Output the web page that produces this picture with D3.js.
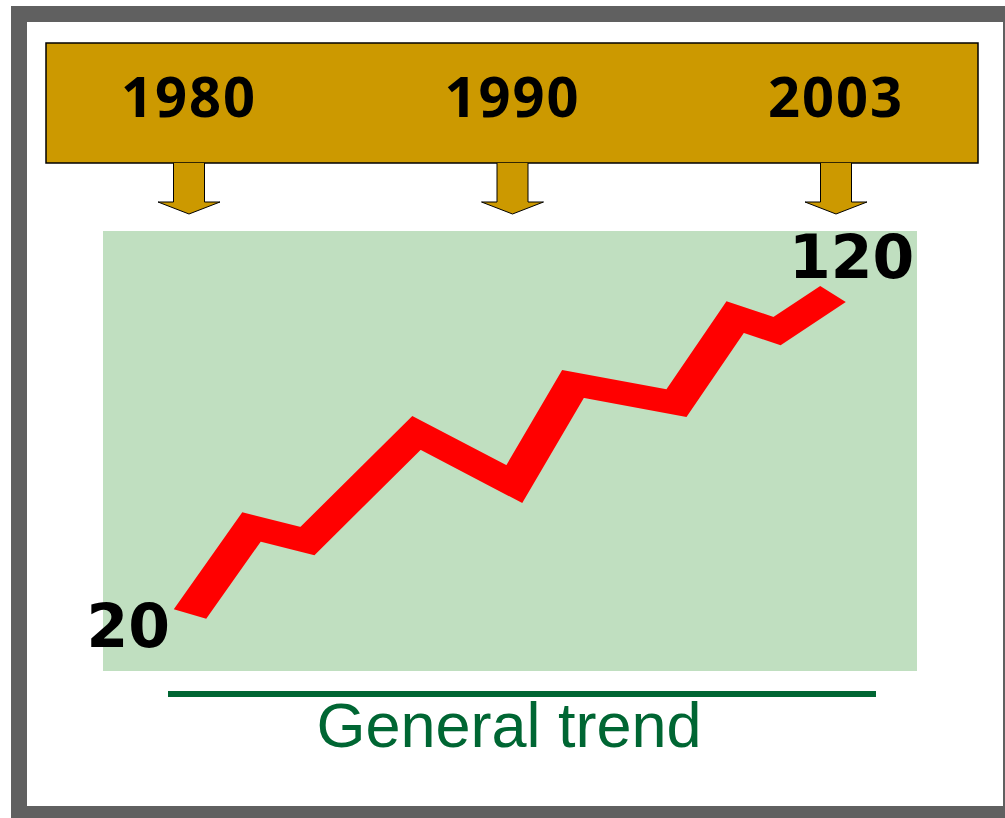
<!DOCTYPE html>
<html lang="en">

<head>
    <meta charset="utf-8">
    <script src="https://d3js.org/d3.v7.min.js"></script>
    <style>
        body { margin: 0; background: #ffffff; }
    </style>
</head>

<body>
    <div id="my_dataviz"></div>
</body>

<script>
    // banner years and the trend series
    const bannerYears = ["1980", "1990", "2003"];
    const years = [1980, 1982.2, 1984.2, 1988.1, 1991.6, 1993.7, 1997.4, 1999.5, 2001, 2003];
    const values = [20, 47.2, 42.8, 76.6, 60.6, 91.9, 85.9, 112.8, 108.4, 120];
    const caption = "General trend";

    const width = 1005,
        height = 818;

    const svg = d3.select("#my_dataviz")
        .append("svg")
        .attr("width", width)
        .attr("height", height);

    // grey frame
    svg.append("rect")
        .attr("x", 11).attr("y", 6)
        .attr("width", 1010).attr("height", 830)
        .attr("fill", "#606060");
    svg.append("rect")
        .attr("x", 27).attr("y", 22)
        .attr("width", 976).attr("height", 784)
        .attr("fill", "#ffffff");

    // banner
    svg.append("rect")
        .attr("x", 46).attr("y", 43)
        .attr("width", 932).attr("height", 120)
        .attr("fill", "#cc9900")
        .attr("stroke", "#000000")
        .attr("stroke-width", 1.5);

    const xb = d3.scalePoint()
        .domain(bannerYears)
        .range([189, 836]);

    svg.selectAll("yearlabel")
        .data(bannerYears)
        .join("text")
        .attr("x", d => xb(d))
        .attr("y", 117)
        .attr("text-anchor", "middle")
        .style("font-family", "'Open Sans', sans-serif")
        .style("font-weight", "bold")
        .style("font-size", "56px")
        .style("letter-spacing", "2px")
        .text(d => d);

    // arrows under each year
    svg.selectAll("arrow")
        .data(bannerYears)
        .join("path")
        .attr("d", d => {
            const c = xb(d);
            return `M${c - 15.5},163 L${c - 15.5},202 L${c - 31},202 L${c},214 L${c + 31},202 L${c + 15.5},202 L${c + 15.5},163`;
        })
        .attr("fill", "#cc9900")
        .attr("stroke", "#000000")
        .attr("stroke-width", 1);

    // green panel
    svg.append("rect")
        .attr("x", 103).attr("y", 231)
        .attr("width", 814).attr("height", 440)
        .attr("fill", "#c0dfc0");

    // scales for the trend
    const x = d3.scaleLinear()
        .domain([1980, 2003])
        .range([190, 833]);
    const y = d3.scaleLinear()
        .domain([20, 120])
        .range([614, 294]);

    // line is drawn squeezed then stretched, so steep parts look thicker
    const sx = 1.55;
    svg.append("g")
        .attr("transform", `scale(${sx},1)`)
        .append("path")
        .datum(years.map((d, i) => [d, values[i]]))
        .attr("fill", "none")
        .attr("stroke", "#ff0000")
        .attr("stroke-width", 23)
        .attr("stroke-linejoin", "miter")
        .attr("stroke-miterlimit", 10)
        .attr("d", d3.line()
            .x(d => x(d[0]) / sx)
            .y(d => y(d[1])));

    // end values
    svg.append("text")
        .attr("x", 170)
        .attr("y", 647)
        .attr("text-anchor", "end")
        .style("font-family", "'DejaVu Sans', sans-serif")
        .style("font-weight", "bold")
        .style("font-size", "60px")
        .text(values[0]);

    svg.append("text")
        .attr("x", 789)
        .attr("y", 278)
        .style("font-family", "'DejaVu Sans', sans-serif")
        .style("font-weight", "bold")
        .style("font-size", "60px")
        .text(values[values.length - 1]);

    // caption
    svg.append("line")
        .attr("x1", 168).attr("x2", 876)
        .attr("y1", 694).attr("y2", 694)
        .attr("stroke", "#006633")
        .attr("stroke-width", 6);

    svg.append("text")
        .attr("x", 509)
        .attr("y", 747)
        .attr("text-anchor", "middle")
        .style("font-family", "'Liberation Sans', Arial, sans-serif")
        .style("font-size", "63px")
        .style("fill", "#006633")
        .text(caption);
</script>

</html>
